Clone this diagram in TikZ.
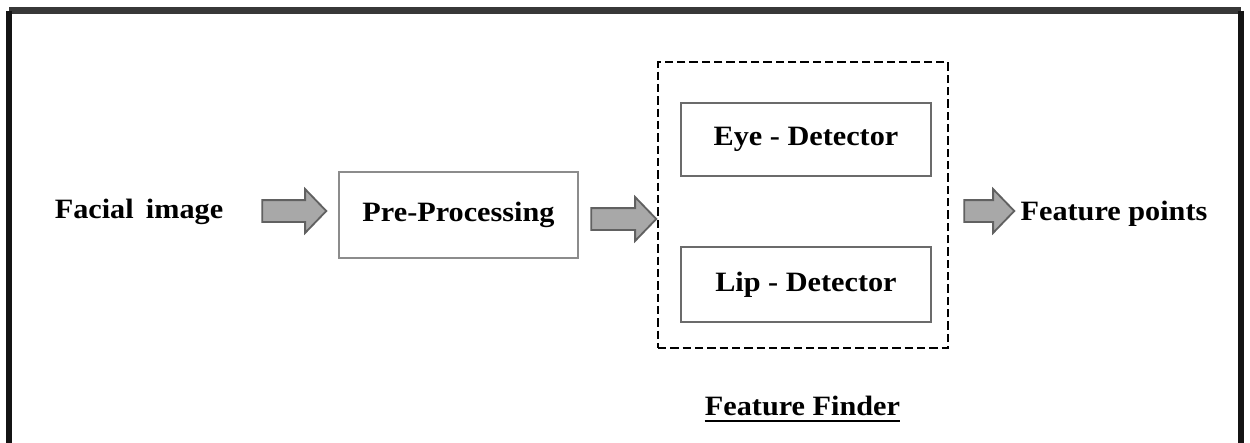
\documentclass[tikz,border=0pt]{standalone}
\usepackage{fontspec}
\setmainfont{Liberation Serif}[FakeStretch=1.08]
\usetikzlibrary{shapes.arrows,calc}
\def\pxu{0.6pt}
\begin{document}
\begin{tikzpicture}[x=0.6pt,y=-0.6pt,
  lbl/.style={font=\bfseries\fontsize{16.8pt}{20pt}\selectfont, inner sep=0pt},
  procbox/.style={lbl, draw=black!45, line width=1.5pt},
  detbox/.style={lbl, draw=black!58, line width=1.5pt},
  finderbox/.style={draw=black, line width=1.6pt, dash pattern=on 5pt off 2.4pt},
  blockarrow/.style={single arrow, draw=black!62, fill=black!34, line width=1.1pt,
    inner sep=6pt, single arrow head extend=6.6pt, single arrow tip angle=92},
  frameline/.style={line width=3.8pt}
]
\useasboundingbox (0,0) rectangle (1250,443);
% outer frame
\coordinate (ftl) at (9,10.5);
\coordinate (ftr) at (1241,10.5);
\coordinate (fbl) at (9,460);
\coordinate (fbr) at (1241,460);
\draw[frameline, line width=4.3pt, draw=black!78] (ftl) -- (ftr);
\draw[frameline, draw=black!92] (fbl) -- (ftl);
\draw[frameline, draw=black!92] (ftr) -- (fbr);

% nodes
\node[lbl] (facial) at (139,212) {Facial\, image};
\node[procbox, minimum width=239*\pxu, minimum height=86*\pxu] (pre) at (458.5,215) {Pre-Processing};
\node[finderbox, minimum width=290*\pxu, minimum height=286*\pxu] (finder) at (803,205) {};
\node[detbox, minimum width=250*\pxu, minimum height=73*\pxu] (eye) at (806,139.5) {Eye - Detector};
\node[detbox, minimum width=250*\pxu, minimum height=75*\pxu] (lip) at (806,284.5) {Lip - Detector};
\node[lbl] (points) at (1114,214) {Feature points};
\node[lbl, anchor=base] (ff) at (802.5,415) {Feature Finder};
\draw[line width=1.2pt] ($(ff.base west)+(0,5.5)$) -- ($(ff.base east)+(0,5.5)$);

% block arrows
\node[blockarrow, minimum height=64*\pxu] (a1) at (289,211) {};
\node[blockarrow, minimum height=65*\pxu] (a2) at (618.5,219) {};
\node[blockarrow, minimum height=50*\pxu] (a3) at (984,211) {};
\end{tikzpicture}
\end{document}
